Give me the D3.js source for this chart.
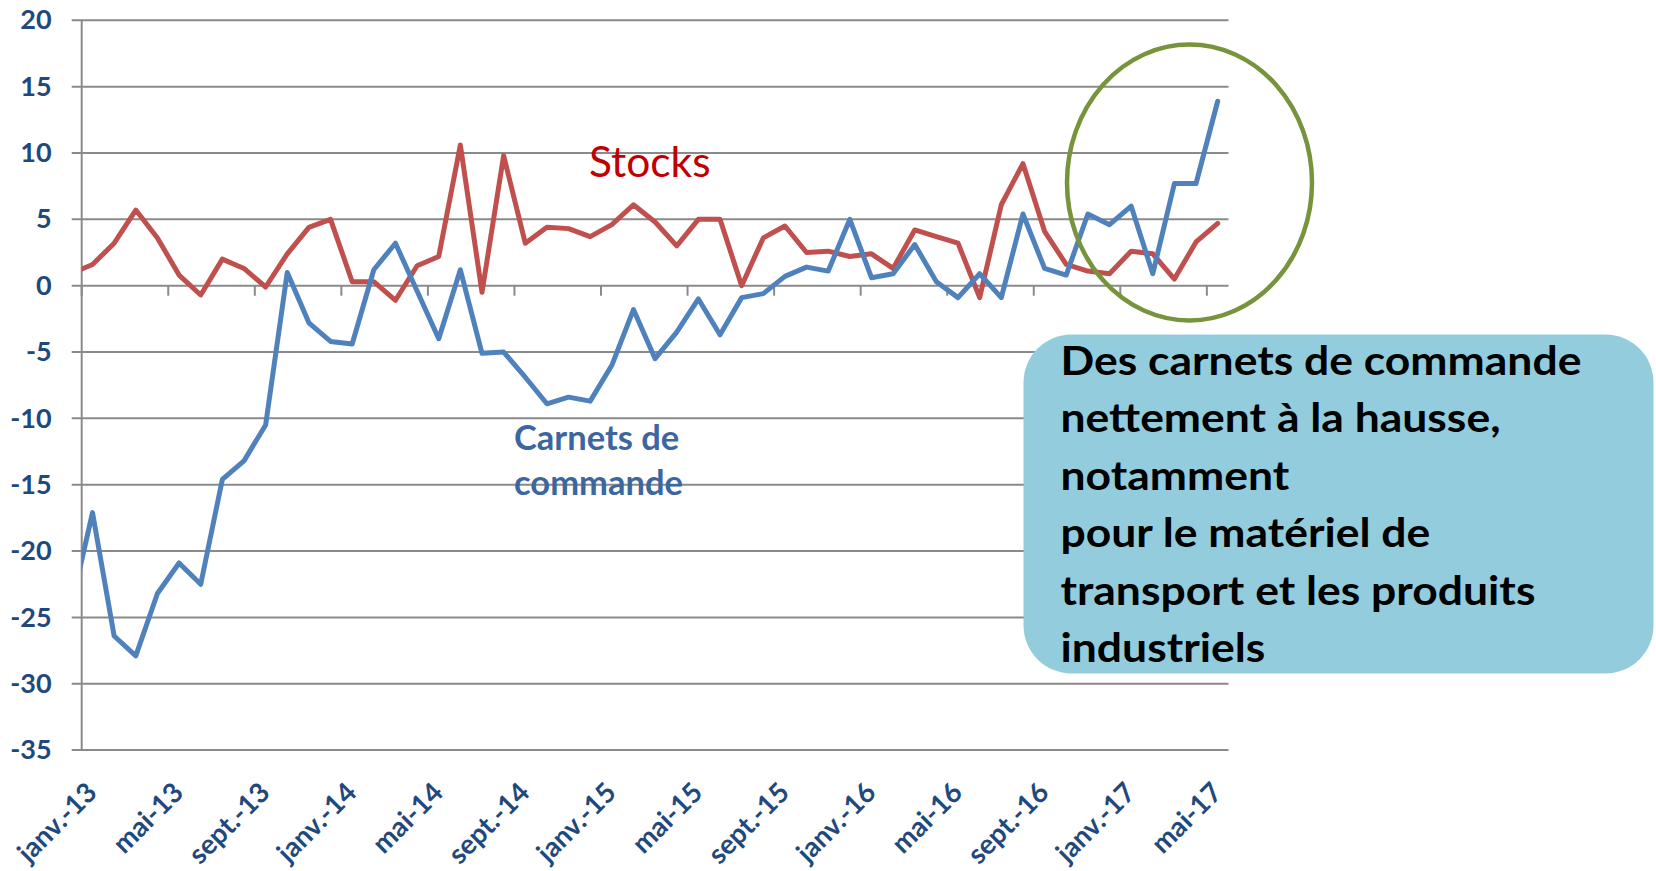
<!DOCTYPE html>
<html lang="fr">
<head>
<meta charset="utf-8">
<title>Carnets de commande et stocks</title>
<script src="https://d3js.org/d3.v7.min.js"></script>
<style>
	html, body { margin: 0; padding: 0; background: #fff; }
	svg { display: block; }
	.graduation { font-family: Lato, "Open Sans", sans-serif; font-weight: 700; font-size: 27px; fill: #1f497d; }
	.etiquettes-x .graduation { font-size: 27.5px; }
</style>
</head>
<body>
<svg id="graphique" width="1656" height="871"></svg>
<script>
"use strict";

// déc.-12 ne sert qu'au départ des courbes : il tombe hors du cadre, coupé par l'axe
var mois = [
	"déc.-12",
	"janv.-13", "févr.-13", "mars-13", "avr.-13", "mai-13", "juin-13", "juil.-13", "août-13", "sept.-13", "oct.-13", "nov.-13", "déc.-13",
	"janv.-14", "févr.-14", "mars-14", "avr.-14", "mai-14", "juin-14", "juil.-14", "août-14", "sept.-14", "oct.-14", "nov.-14", "déc.-14",
	"janv.-15", "févr.-15", "mars-15", "avr.-15", "mai-15", "juin-15", "juil.-15", "août-15", "sept.-15", "oct.-15", "nov.-15", "déc.-15",
	"janv.-16", "févr.-16", "mars-16", "avr.-16", "mai-16", "juin-16", "juil.-16", "août-16", "sept.-16", "oct.-16", "nov.-16", "déc.-16",
	"janv.-17", "févr.-17", "mars-17", "avr.-17", "mai-17"
];

var etiquettesX = ["janv.-13", "mai-13", "sept.-13", "janv.-14", "mai-14", "sept.-14", "janv.-15",
	"mai-15", "sept.-15", "janv.-16", "mai-16", "sept.-16", "janv.-17", "mai-17"];

var graduationsY = [20, 15, 10, 5, 0, -5, -10, -15, -20, -25, -30, -35];

var stocks = [
	0.9,
	1.6, 3.2, 5.7, 3.6, 0.8, -0.7, 2.0, 1.3, -0.1, 2.4, 4.4, 5.0,
	0.3, 0.3, -1.1, 1.5, 2.2, 10.6, -0.5, 9.8, 3.2, 4.4, 4.3, 3.7,
	4.6, 6.1, 4.8, 3.0, 5.0, 5.0, 0.0, 3.6, 4.5, 2.5, 2.6, 2.2,
	2.4, 1.3, 4.2, 3.7, 3.2, -0.9, 6.1, 9.2, 4.1, 1.6, 1.1, 0.9,
	2.6, 2.4, 0.5, 3.3, 4.7
];

var carnets = [
	-24.3,
	-17.1, -26.4, -27.9, -23.2, -20.9, -22.5, -14.6, -13.2, -10.5, 1.0, -2.8, -4.2,
	-4.4, 1.2, 3.2, -0.4, -4.0, 1.2, -5.1, -5.0, -6.9, -8.9, -8.4, -8.7,
	-6.0, -1.8, -5.5, -3.5, -1.0, -3.7, -0.9, -0.6, 0.7, 1.4, 1.1, 5.0,
	0.6, 0.9, 3.1, 0.3, -0.9, 0.9, -0.9, 5.4, 1.3, 0.8, 5.4, 4.6,
	6.0, 0.9, 7.7, 7.7, 13.9
];

var encadre = [
	"Des carnets de commande",
	"nettement à la hausse,",
	"notamment",
	"pour le matériel de",
	"transport et les produits",
	"industriels"
];


/*	CADRE ET ÉCHELLES	****	****	****	*/

var svg = d3.select("#graphique");

var gauche = 81.7,
	droite = 1228.5,
	largeurMois = (droite - gauche) / (mois.length - 1);

var x = d3.scaleBand()
	.domain(mois)
	.range([gauche - largeurMois, droite])
	.paddingInner(0)
	.paddingOuter(0);

var centre = d => x(d) + x.bandwidth() / 2;

var y = d3.scaleLinear()
	.domain([-35, 20])
	.range([750.1, 20.3]);

svg.append("defs")
	.append("clipPath")
	.attr("id", "cadre")
	.append("rect")
	.attr("x", gauche)
	.attr("y", 0)
	.attr("width", 1656 - gauche)
	.attr("height", 871);

// grilles (débordent à gauche de l'axe comme des graduations)
svg.append("g")
	.attr("class", "grilles")
	.selectAll("line")
	.data(graduationsY)
	.enter()
		.append("line")
		.attr("x1", gauche - 10)
		.attr("x2", droite)
		.attr("y1", d => y(d))
		.attr("y2", d => y(d))
		.attr("stroke", "#8a8a8a")
		.attr("stroke-width", 2);

// axe vertical
svg.append("line")
	.attr("x1", gauche)
	.attr("x2", gauche)
	.attr("y1", y(20))
	.attr("y2", y(-35))
	.attr("stroke", "#8a8a8a")
	.attr("stroke-width", 2);

// graduations de l'axe des mois, sous la ligne du zéro
svg.append("g")
	.attr("class", "graduations-x")
	.selectAll("line")
	.data(etiquettesX)
	.enter()
		.append("line")
		.attr("x1", d => x(d))
		.attr("x2", d => x(d))
		.attr("y1", y(0))
		.attr("y2", y(0) + 10)
		.attr("stroke", "#8a8a8a")
		.attr("stroke-width", 2);

// étiquettes Y
svg.append("g")
	.attr("transform", "translate(" + gauche + ",0)")
	.call(d3.axisLeft(y)
		.tickValues(graduationsY)
		.tickFormat(d => String(d))
		.tickSize(0)
		.tickPadding(30))
	.call(g => g.select(".domain").remove())
	.selectAll("text")
	.attr("class", "graduation")
	.attr("font-size", null)
	.attr("font-family", null);

// étiquettes X inclinées
svg.append("g")
	.attr("class", "etiquettes-x")
	.selectAll("text")
	.data(etiquettesX)
	.enter()
		.append("text")
		.attr("class", "graduation")
		.attr("text-anchor", "end")
		.attr("transform", d => "translate(" + (centre(d) + 6) + "," + (y(-35) + 44) + ") rotate(-45)")
		.text(d => d);


/*	COURBES	****	****	****	*/

var trace = serie => d3.line()
	.x((d, i) => centre(mois[i]))
	.y(d => y(d))(serie);

var gCourbes = svg.append("g")
	.attr("clip-path", "url(#cadre)");

gCourbes.append("path")
	.attr("d", trace(stocks))
	.attr("fill", "none")
	.attr("stroke", "#c0504d")
	.attr("stroke-width", 5)
	.attr("stroke-linejoin", "round")
	.attr("stroke-linecap", "round");

gCourbes.append("path")
	.attr("d", trace(carnets))
	.attr("fill", "none")
	.attr("stroke", "#4f81bd")
	.attr("stroke-width", 5)
	.attr("stroke-linejoin", "round")
	.attr("stroke-linecap", "round");


/*	ANNOTATIONS	****	****	****	*/

svg.append("text")
	.attr("x", 589)
	.attr("y", 176.7)
	.attr("font-family", "Lato, 'Open Sans', sans-serif")
	.attr("font-size", 42.5)
	.attr("fill", "#c00000")
	.text("Stocks");

svg.append("text")
	.attr("font-family", "Lato, 'Open Sans', sans-serif")
	.attr("font-weight", 700)
	.attr("font-size", 34.5)
	.attr("fill", "#3b66a0")
	.selectAll("tspan")
	.data(["Carnets de", "commande"])
	.enter()
		.append("tspan")
		.attr("x", 514)
		.attr("y", (d, i) => 450 + i * 45)
		.text(d => d);

// cercle autour des derniers mois
svg.append("ellipse")
	.attr("cx", 1189.5)
	.attr("cy", 182.5)
	.attr("rx", 122.5)
	.attr("ry", 138)
	.attr("fill", "none")
	.attr("stroke", "#77933c")
	.attr("stroke-width", 4.5);

// encadré
var gEncadre = svg.append("g");

gEncadre.append("rect")
	.attr("x", 1023.5)
	.attr("y", 334.5)
	.attr("width", 630)
	.attr("height", 339)
	.attr("rx", 48)
	.attr("fill", "#93cddd");

var texteEncadre = gEncadre.append("text")
	.attr("font-family", "Lato, 'Open Sans', sans-serif")
	.attr("font-weight", 700)
	.attr("font-size", 41)
	.attr("fill", "#000");

texteEncadre.selectAll("tspan")
	.data(encadre)
	.enter()
		.append("tspan")
		.attr("x", 0)
		.attr("y", (d, i) => 375 + i * 57.4)
		.text(d => d);

// resserrement horizontal pour retrouver la chasse de la police d'origine
var premiere = texteEncadre.select("tspan").node().getComputedTextLength();
texteEncadre.attr("transform", "translate(1060.5,0) scale(" + (521 / premiere) + ",1)");
</script>
</body>
</html>
